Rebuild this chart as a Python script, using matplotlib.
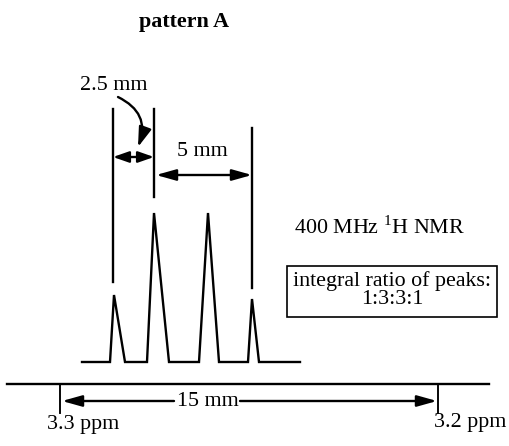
import matplotlib
matplotlib.use("Agg")
import matplotlib.pyplot as plt
from matplotlib.patches import FancyArrowPatch, Rectangle

plt.rcParams['font.family'] = ['Liberation Serif', 'DejaVu Serif']
plt.rcParams['mathtext.fontset'] = 'custom'
plt.rcParams['mathtext.rm'] = 'Liberation Serif'

# diagram drawn in pixel units of the 510x446 canvas
title = "pattern A"
peak_apex_x = [114, 154, 208, 252]
peak_apex_y = [295, 213, 213, 299]
peak_left = [110, 147, 199, 248]
peak_right = [125, 169, 219, 259]
baseline_y = 362
baseline_span = (82, 300)

marker_x = [113, 154, 252]
marker_top = [109, 109, 128]
marker_bottom = [282, 197, 288]

axis_y = 384
axis_span = (7, 489)
ppm_x = [60, 438]
ppm_labels = ["3.3 ppm", "3.2 ppm"]
spacing_labels = ["2.5 mm", "5 mm", "15 mm"]
nmr_label = r"400 MHz $^{\mathrm{1}}$H NMR"
ratio_label = "integral ratio of peaks:\n1:3:3:1"

FS = 15.8
LW = 1.7

fig = plt.figure(figsize=(5.10, 4.46), dpi=100)
ax = fig.add_axes([0, 0, 1, 1])
ax.set_xlim(0, 510)
ax.set_ylim(446, 0)
ax.axis('off')

ax.text(184, 22, title, ha='center', va='center', fontsize=FS, fontweight='bold')

# spectrum trace
xs = [baseline_span[0]]
ys = [baseline_y]
for l, px, py, r in zip(peak_left, peak_apex_x, peak_apex_y, peak_right):
    xs += [l, px, r]
    ys += [baseline_y, py, baseline_y]
xs.append(baseline_span[1])
ys.append(baseline_y)
ax.plot(xs, ys, color='black', lw=LW, solid_joinstyle='miter')

# vertical marker lines
for x, t, b in zip(marker_x, marker_top, marker_bottom):
    ax.plot([x, x], [t, b], color='black', lw=LW)

astyle = "<|-|>,head_length=1.0,head_width=0.28"
# 2.5 mm
ax.add_patch(FancyArrowPatch((marker_x[0], 157), (marker_x[1], 157),
                             arrowstyle="<|-|>,head_length=0.8,head_width=0.28",
                             mutation_scale=12, color='black', lw=LW, shrinkA=0, shrinkB=0))
ax.text(114, 85, spacing_labels[0], ha='center', va='center', fontsize=FS)
ax.add_patch(FancyArrowPatch((118, 97), (138, 147), connectionstyle="arc3,rad=-0.45",
                             arrowstyle="-|>,head_length=1.0,head_width=0.32",
                             mutation_scale=12, color='black', lw=LW, shrinkA=0, shrinkB=0))
# 5 mm
ax.add_patch(FancyArrowPatch((marker_x[1] + 2, 175), (marker_x[2], 175), arrowstyle=astyle,
                             mutation_scale=12, color='black', lw=LW, shrinkA=0, shrinkB=0))
ax.text(202, 152, spacing_labels[1], ha='center', va='center', fontsize=FS)

# ppm axis
ax.plot(axis_span, [axis_y, axis_y], color='black', lw=LW)
for x in ppm_x:
    ax.plot([x, x], [axis_y, 413], color='black', lw=LW * 0.8)
ax.text(83, 425, ppm_labels[0], ha='center', va='center', fontsize=FS)
ax.text(470, 422, ppm_labels[1], ha='center', va='center', fontsize=FS)

# 15 mm
ax.add_patch(FancyArrowPatch((ppm_x[0] + 2, 401), (174, 401), arrowstyle="<|-,head_length=1.0,head_width=0.28",
                             mutation_scale=12, color='black', lw=LW, shrinkA=0, shrinkB=0))
ax.add_patch(FancyArrowPatch((240, 401), (ppm_x[1] - 1, 401), arrowstyle="-|>,head_length=1.0,head_width=0.28",
                             mutation_scale=12, color='black', lw=LW, shrinkA=0, shrinkB=0))
ax.text(208, 401, spacing_labels[2], ha='center', va='center', fontsize=FS)

ax.text(380, 227, nmr_label, ha='center', va='center', fontsize=FS)

ax.add_patch(Rectangle((287, 266), 210, 51, fill=False, edgecolor='black', lw=1.2))
ax.text(392, 290, ratio_label, ha='center', va='center', fontsize=FS, linespacing=0.95)

fig.savefig("out.png", dpi=100)
